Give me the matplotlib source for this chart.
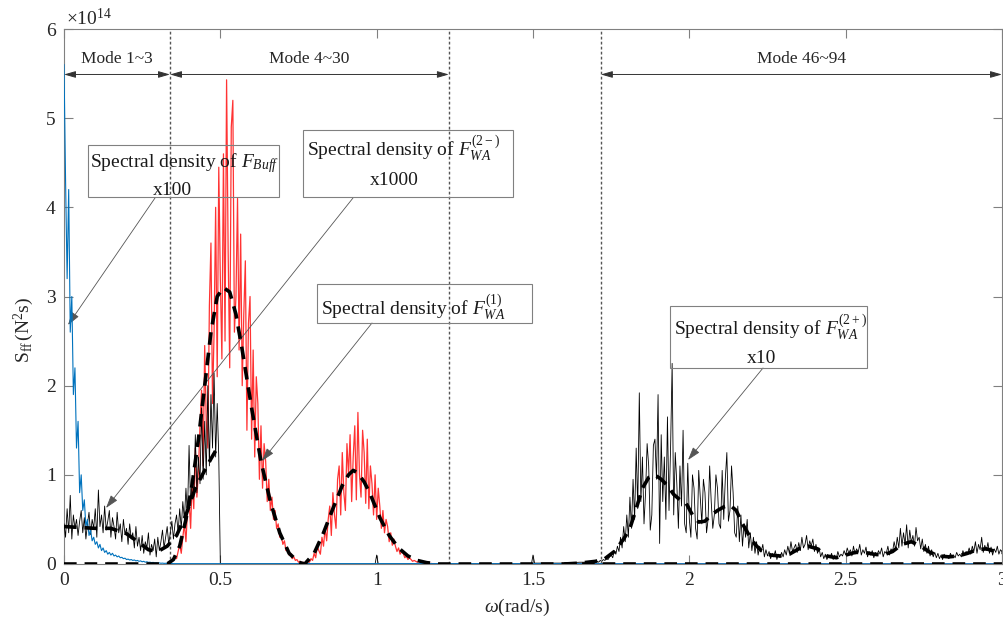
import numpy as np
import matplotlib
matplotlib.use('Agg')
import matplotlib.pyplot as plt
from matplotlib.patches import Rectangle

plt.rcParams['font.family'] = ['Liberation Serif', 'DejaVu Serif']
plt.rcParams['mathtext.fontset'] = 'custom'
plt.rcParams['mathtext.rm'] = 'Liberation Serif'
plt.rcParams['mathtext.it'] = 'Liberation Serif:italic'

# ---- data (values in units of 1e14 N^2 s) ----
# F_Buff x100, omega = 0 .. 0.35 step 0.005
buff_vals = [5.60, 4.30, 3.20, 4.20, 2.60, 3.00, 1.90, 2.20, 1.30, 1.60,
             0.80, 1.00, 0.60, 0.72, 0.42, 0.50, 0.32, 0.38, 0.26, 0.30,
             0.22, 0.25, 0.18, 0.22, 0.15, 0.18, 0.13, 0.15, 0.11, 0.13,
             0.10, 0.12, 0.09, 0.10, 0.08, 0.09, 0.07, 0.075, 0.06, 0.065,
             0.05, 0.055, 0.045, 0.05, 0.04, 0.045, 0.035, 0.04, 0.03, 0.035,
             0.025, 0.03, 0.02, 0.025, 0.018, 0.02, 0.015, 0.018, 0.012, 0.014,
             0.01, 0.012, 0.008, 0.01, 0.007, 0.008, 0.006, 0.007, 0.005, 0.005, 0.004]
buff_end = 0.003  # flat tail up to omega = 3

# F_WA^(1), omega = 0.33 .. 1.225 step 0.005
wa1_vals = [0.00, 0.02, 0.03, 0.05, 0.04, 0.09, 0.06, 0.14, 0.22, 0.12,
            0.30, 0.45, 0.25, 0.60, 0.72, 0.40, 0.95, 0.62, 1.30, 0.75,
            1.05, 1.55, 1.95, 1.10, 2.45, 1.60, 1.30, 2.90, 3.60, 1.80,
            2.60, 4.00, 2.10, 4.45, 3.20, 2.30, 4.60, 2.50, 5.43, 3.50,
            2.20, 4.90, 5.20, 2.60, 3.00, 4.10, 2.40, 3.70, 2.00, 2.80,
            3.40, 1.50, 2.70, 3.00, 1.40, 2.40, 1.20, 2.10, 1.80, 0.95,
            1.55, 0.85, 1.35, 1.15, 0.70, 0.95, 0.60, 0.75, 0.50, 0.60,
            0.40, 0.45, 0.30, 0.32, 0.22, 0.26, 0.15, 0.18, 0.10, 0.12,
            0.06, 0.08, 0.04, 0.05, 0.02, 0.03, 0.01, 0.02, 0.01, 0.02,
            0.03, 0.02, 0.06, 0.04, 0.12, 0.07, 0.20, 0.15, 0.11, 0.30,
            0.20, 0.40, 0.26, 0.50, 0.65, 0.32, 0.80, 0.55, 0.40, 0.95,
            1.10, 0.55, 1.25, 0.80, 0.60, 1.35, 1.00, 1.45, 0.70, 1.20,
            1.55, 0.72, 1.70, 1.00, 0.75, 1.50, 1.25, 0.68, 1.40, 0.62,
            1.10, 0.90, 0.55, 1.00, 0.50, 0.85, 0.65, 0.40, 0.60, 0.35,
            0.50, 0.42, 0.25, 0.35, 0.21, 0.28, 0.20, 0.14, 0.18, 0.11,
            0.14, 0.12, 0.07, 0.09, 0.05, 0.07, 0.05, 0.03, 0.04, 0.03,
            0.02, 0.03, 0.015, 0.02, 0.01, 0.015, 0.008, 0.01, 0.005, 0.006,
            0.003, 0.004, 0.002, 0.002, 0.001, 0.001, 0.0, 0.0, 0.0, 0.0]

# F_WA^(2-) x1000, omega = 0 .. 0.495 step 0.005, then drops to 0 at 0.5
wa2m_vals = [0.45, 0.30, 0.62, 0.35, 0.77, 0.28, 0.55, 0.40, 0.50, 0.32,
             0.48, 0.60, 0.35, 0.52, 0.28, 0.45, 0.58, 0.33, 0.50, 0.40,
             0.62, 0.30, 0.83, 0.42, 0.55, 0.35, 0.65, 0.38, 0.48, 0.60,
             0.30, 0.52, 0.42, 0.28, 0.58, 0.35, 0.45, 0.25, 0.50, 0.33,
             0.40, 0.22, 0.45, 0.28, 0.35, 0.18, 0.42, 0.20, 0.30, 0.15,
             0.32, 0.12, 0.25, 0.18, 0.35, 0.10, 0.22, 0.15, 0.28, 0.08,
             0.30, 0.15, 0.25, 0.38, 0.18, 0.30, 0.42, 0.22, 0.35, 0.48,
             0.28, 0.45, 0.55, 0.35, 0.62, 0.40, 0.70, 0.50, 0.85, 0.55,
             1.33, 0.65, 0.95, 0.75, 1.45, 0.80, 1.20, 0.90, 1.75, 0.95,
             1.60, 1.00, 2.00, 1.10, 1.90, 1.30, 2.14, 1.20, 1.80, 1.20, 0.0]

# F_WA^(2+) x10: low part (irregular omega), then omega = 1.70 .. 3.00 step 0.005
wa2p_low_w = [0.5, 0.995, 1.0, 1.005, 1.495, 1.5, 1.505, 1.6, 1.65, 1.695]
wa2p_low_v = [0.0, 0.0, 0.1, 0.0, 0.0, 0.1, 0.01, 0.01, 0.02, 0.02]
wa2p_vals = [0.02, 0.03, 0.02, 0.04, 0.03, 0.05, 0.04, 0.06, 0.05, 0.08,
             0.10, 0.07, 0.15, 0.11, 0.20, 0.14, 0.30, 0.18, 0.42, 0.25,
             0.55, 0.30, 0.75, 0.40, 0.95, 0.50, 1.30, 0.62, 1.92, 0.70,
             1.20, 0.45, 0.80, 1.35, 1.10, 0.38, 0.55, 1.33, 1.40, 0.95,
             1.90, 0.23, 1.45, 0.70, 1.20, 0.50, 1.65, 0.60, 1.30, 2.25,
             0.55, 1.25, 0.90, 0.40, 1.10, 0.65, 1.50, 0.45, 0.35, 1.13,
             0.50, 0.30, 1.00, 0.85, 0.40, 0.28, 1.05, 0.75, 0.45, 0.95,
             0.80, 0.35, 0.50, 1.10, 0.70, 0.40, 0.55, 1.00, 0.85, 0.45,
             0.40, 1.05, 0.50, 0.95, 1.25, 0.48, 0.60, 1.10, 0.80, 0.35,
             0.30, 0.65, 0.25, 0.55, 0.20, 0.45, 0.30, 0.50, 0.18, 0.35,
             0.15, 0.30, 0.12, 0.25, 0.10, 0.20, 0.14, 0.22, 0.08, 0.16,
             0.09, 0.14, 0.06, 0.12, 0.08, 0.15, 0.05, 0.11, 0.07, 0.13,
             0.08, 0.16, 0.10, 0.20, 0.12, 0.25, 0.14, 0.18, 0.22, 0.13,
             0.24, 0.15, 0.30, 0.18, 0.22, 0.32, 0.16, 0.26, 0.20, 0.28,
             0.14, 0.22, 0.12, 0.18, 0.08, 0.13, 0.06, 0.11, 0.05, 0.09,
             0.07, 0.12, 0.05, 0.10, 0.06, 0.14, 0.08, 0.11, 0.09, 0.15,
             0.10, 0.18, 0.12, 0.16, 0.09, 0.20, 0.11, 0.17, 0.13, 0.22,
             0.10, 0.16, 0.12, 0.19, 0.08, 0.14, 0.10, 0.15, 0.07, 0.13,
             0.09, 0.15, 0.11, 0.18, 0.08, 0.14, 0.12, 0.20, 0.10, 0.17,
             0.14, 0.25, 0.16, 0.30, 0.18, 0.40, 0.20, 0.35, 0.22, 0.44,
             0.18, 0.38, 0.24, 0.32, 0.20, 0.41, 0.26, 0.30, 0.17, 0.28,
             0.14, 0.22, 0.12, 0.20, 0.09, 0.16, 0.08, 0.13, 0.07, 0.12,
             0.06, 0.10, 0.05, 0.11, 0.07, 0.09, 0.06, 0.12, 0.08, 0.10,
             0.07, 0.13, 0.09, 0.11, 0.08, 0.15, 0.10, 0.14, 0.12, 0.18,
             0.11, 0.20, 0.14, 0.25, 0.12, 0.22, 0.16, 0.30, 0.13, 0.21,
             0.15, 0.24, 0.12, 0.19, 0.10, 0.17, 0.13, 0.20, 0.11, 0.16, 0.14]

# smoothed (fitted) spectra, dashed
fit1_w = [0, 0.33, 0.35, 0.37, 0.39, 0.41, 0.43, 0.45, 0.47, 0.49, 0.51, 0.53, 0.55, 0.57,
          0.60, 0.63, 0.66, 0.69, 0.72, 0.75, 0.77, 0.80, 0.83, 0.86, 0.89, 0.91, 0.925,
          0.94, 0.96, 0.98, 1.01, 1.04, 1.07, 1.10, 1.13, 1.16, 1.20, 1.23, 3.0]
fit1_v = [0, 0, 0.05, 0.2, 0.5, 0.9, 1.4, 2.0, 2.6, 3.0, 3.1, 3.05, 2.8, 2.4,
          1.75, 1.15, 0.7, 0.35, 0.12, 0.02, 0, 0.12, 0.35, 0.62, 0.88, 1.0, 1.05,
          1.02, 0.92, 0.78, 0.52, 0.32, 0.18, 0.09, 0.04, 0.015, 0.0, 0, 0]
fit2m_w = [0, 0.05, 0.10, 0.15, 0.20, 0.24, 0.27, 0.30, 0.33, 0.36, 0.39, 0.42, 0.45, 0.47, 0.49]
fit2m_v = [0.42, 0.41, 0.40, 0.40, 0.34, 0.24, 0.16, 0.14, 0.20, 0.32, 0.55, 0.85, 1.05, 1.18, 1.30]
fit2p_w = [1.60, 1.65, 1.70, 1.73, 1.76, 1.79, 1.81, 1.83, 1.85, 1.87, 1.89, 1.91, 1.93, 1.95,
           1.97, 1.99, 2.01, 2.03, 2.05, 2.07, 2.09, 2.11, 2.13, 2.15, 2.17, 2.19, 2.21, 2.23,
           2.26, 2.29, 2.32, 2.35, 2.38, 2.41, 2.44, 2.47, 2.50, 2.53, 2.56, 2.59, 2.62, 2.65,
           2.68, 2.71, 2.74, 2.77, 2.80, 2.83, 2.86, 2.89, 2.92, 2.95, 2.98, 3.0]
fit2p_v = [0.0, 0.01, 0.03, 0.06, 0.14, 0.28, 0.40, 0.62, 0.85, 0.97, 1.0, 0.95, 0.88, 0.78,
           0.72, 0.68, 0.55, 0.47, 0.48, 0.55, 0.60, 0.64, 0.66, 0.60, 0.45, 0.33, 0.22, 0.15,
           0.10, 0.09, 0.11, 0.17, 0.20, 0.17, 0.09, 0.07, 0.10, 0.13, 0.13, 0.11, 0.10, 0.14,
           0.22, 0.25, 0.20, 0.13, 0.09, 0.08, 0.09, 0.12, 0.16, 0.17, 0.14, 0.13]

mode_bounds = [0.339, 1.231, 1.717]
xticks = [0, 0.5, 1, 1.5, 2, 2.5, 3]
xticklabels = ['0', '0.5', '1', '1.5', '2', '2.5', '3']

# omega grids
w_buff = list(0.005 * np.arange(len(buff_vals))) + [3.0]
v_buff = buff_vals + [buff_end]
w_wa1 = list(0.33 + 0.005 * np.arange(len(wa1_vals))) + [3.0]
v_wa1 = wa1_vals + [0.0]
w_wa2m = list(0.005 * np.arange(len(wa2m_vals) - 1)) + [0.5]
w_wa2p = wa2p_low_w + list(1.70 + 0.005 * np.arange(len(wa2p_vals)))
v_wa2p = wa2p_low_v + wa2p_vals

W, H = 1004, 622
fig = plt.figure(figsize=(W / 100, H / 100), dpi=100)
ax = fig.add_axes([64 / W, (H - 564) / H, (1002 - 64) / W, (564 - 29) / H])

for b in mode_bounds:
    ax.axvline(b, color='#555555', lw=1.0, dashes=(2, 1.6), zorder=1)

ax.plot(w_wa1, v_wa1, color='#ff0000', lw=0.9, alpha=0.8, zorder=2)
ax.plot(w_wa2m, wa2m_vals, color='k', lw=0.6, zorder=3)
ax.plot(w_wa2p, v_wa2p, color='k', lw=0.6, zorder=3)
ax.plot(w_buff, v_buff, color='#0072BD', lw=0.8, zorder=4)

dash = dict(color='k', lw=2.6, dashes=(3.5, 2.2), zorder=5)
ax.plot(fit1_w, fit1_v, **dash)
ax.plot(fit2m_w, fit2m_v, **dash)
ax.plot(fit2p_w, fit2p_v, **dash)

ax.set_xlim(0, 3)
ax.set_ylim(0, 6)
ax.set_xticks(xticks)
ax.set_xticklabels(xticklabels)
ax.set_yticks(range(7))
ax.tick_params(direction='in', length=6.5, width=0.8, top=True, right=True,
               color='#808080', labelsize=14, labelcolor='#262626')
ax.tick_params(axis='x', pad=6)
ax.tick_params(axis='y', pad=6)
for s in ax.spines.values():
    s.set_color('#808080')
    s.set_linewidth(0.8)

ax.set_xlabel(r'$\omega$(rad/s)', fontsize=14, color='#262626')
ax.xaxis.set_label_coords((517 - 64) / 938, -0.062)
ax.set_ylabel(r'$\mathrm{S_{ff}\,(N^{2}s)}$', fontsize=14, color='#262626')
ax.yaxis.set_label_coords(-0.03, 0.437)
fig.text(66 / W, 1 - 25 / H, r'$\times10^{14}$', fontsize=14, color='#262626')

# mode ranges
arrow2 = dict(arrowstyle='<|-|>,head_length=0.7,head_width=0.2', color='#333333',
              lw=0.7, mutation_scale=10, shrinkA=0, shrinkB=0)
mode_y = 5.49
spans = [(0, mode_bounds[0], 'Mode 1~3'), (mode_bounds[0], mode_bounds[1], 'Mode 4~30'),
         (mode_bounds[2], 3.0, 'Mode 46~94')]
for a, b, lab in spans:
    ax.annotate('', xy=(a, mode_y), xytext=(b, mode_y), arrowprops=arrow2, zorder=6)
    ax.text((a + b) / 2, 5.62, lab, ha='center', va='baseline', fontsize=12.5, color='#262626')

# annotation boxes (pixel layout)
def box(x0, y0, x1, y1):
    fig.add_artist(Rectangle((x0 / W, 1 - y1 / H), (x1 - x0) / W, (y1 - y0) / H,
                             transform=fig.transFigure, fill=False, ec='#808080', lw=0.8))

def label(x, y, s):
    fig.text(x / W, 1 - y / H, s, ha='center', va='baseline', fontsize=14, color='#1a1a1a')

def pointer(x1, y1, x2, y2):
    ax.annotate('', xy=(x2, H - y2), xycoords='figure pixels', xytext=(x1, H - y1),
                textcoords='figure pixels',
                arrowprops=dict(arrowstyle='-|>,head_length=0.8,head_width=0.25',
                                color='#555555', lw=0.6, mutation_scale=10,
                                shrinkA=0, shrinkB=0))

box(88, 145, 279, 197)
label(185, 167, r'Spectral density of $F_{Buff}$')
label(172, 195, 'x100')
pointer(155, 198, 68, 325)

box(303, 130, 513, 197)
label(404, 156, r'Spectral density of $F_{WA}^{(2-)}$')
label(394, 185, 'x1000')
pointer(353, 198, 106, 508)

box(317, 284, 532, 323)
label(413, 315, r'Spectral density of $F_{WA}^{(1)}$')
pointer(372, 323, 262, 461)

box(670, 306, 867, 368)
label(771, 335, r'Spectral density of $F_{WA}^{(2+)}$')
label(762, 363, 'x10')
pointer(763, 368, 688, 460)

fig.savefig('out.png', dpi=100)
